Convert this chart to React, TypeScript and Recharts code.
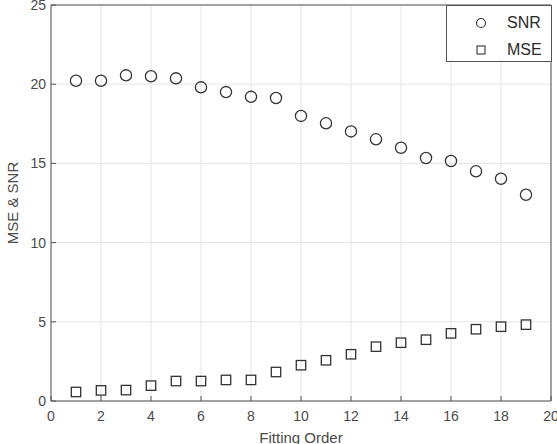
import { ScatterChart, Scatter, XAxis, YAxis, CartesianGrid, Legend } from "recharts";

const orders = [1, 2, 3, 4, 5, 6, 7, 8, 9, 10, 11, 12, 13, 14, 15, 16, 17, 18, 19];
const snrValues = [
  20.22, 20.22, 20.56, 20.5, 20.37, 19.8, 19.5, 19.2, 19.13, 18.0, 17.53, 17.02, 16.52,
  15.99, 15.34, 15.15, 14.5, 14.03, 13.02,
];
const mseValues = [
  0.57, 0.67, 0.69, 0.97, 1.26, 1.26, 1.33, 1.33, 1.83, 2.26, 2.57, 2.95, 3.43, 3.68,
  3.87, 4.27, 4.53, 4.69, 4.82,
];
const xTicks = [0, 2, 4, 6, 8, 10, 12, 14, 16, 18, 20];
const yTicks = [0, 5, 10, 15, 20, 25];

const snrData = orders.map((x, i) => ({ x, y: snrValues[i] }));
const mseData = orders.map((x, i) => ({ x, y: mseValues[i] }));

const FONT = "'Liberation Sans', Arial, Helvetica, sans-serif";
const AXIS = "#555";
const TEXT = "#4a4a4a";
const MARK = "#333";

function CircleMark(props: any) {
  const { cx, cy } = props;
  if (cx == null || cy == null) return null;
  return <circle cx={cx} cy={cy} r={5.6} fill="none" stroke={MARK} strokeWidth={1.3} />;
}

function SquareMark(props: any) {
  const { cx, cy } = props;
  if (cx == null || cy == null) return null;
  return (
    <rect x={cx - 4.7} y={cy - 4.7} width={9.4} height={9.4} fill="none" stroke={MARK} strokeWidth={1.3} />
  );
}

function YTitle() {
  return (
    <text
      x={12}
      y={203}
      transform="rotate(-90 12 203)"
      textAnchor="middle"
      dominantBaseline="central"
      fill={TEXT}
      fontSize={15}
      fontFamily={FONT}
    >
      MSE &amp; SNR
    </text>
  );
}

function LegendBox() {
  const row = { display: "flex", alignItems: "center", height: 27 } as const;
  return (
    <div
      style={{
        width: 106,
        height: 57,
        boxSizing: "border-box",
        border: `1px solid ${AXIS}`,
        background: "#fff",
        fontFamily: FONT,
        fontSize: 16,
        color: "#2a2a2a",
        paddingTop: 3,
      }}
    >
      <div style={row}>
        <svg width={60} height={14} style={{ flex: "none" }}>
          <circle cx={34} cy={7} r={4.5} fill="none" stroke={MARK} strokeWidth={1.1} />
        </svg>
        <span>SNR</span>
      </div>
      <div style={row}>
        <svg width={60} height={14} style={{ flex: "none" }}>
          <rect x={30} y={3} width={8} height={8} fill="none" stroke={MARK} strokeWidth={1.1} />
        </svg>
        <span>MSE</span>
      </div>
    </div>
  );
}

export default function App() {
  return (
    <div style={{ position: "absolute", left: 0, top: 0, width: 557, height: 444, background: "#fff" }}>
      <ScatterChart
        width={557}
        height={444}
        margin={{ top: 0, right: 0, bottom: 0, left: 0 }}
        style={{ fontFamily: FONT }}
      >
        <CartesianGrid stroke="#e4e4e4" strokeWidth={1} />
        <XAxis
          type="number"
          dataKey="x"
          domain={[0, 20]}
          ticks={xTicks}
          interval={0}
          height={43}
          stroke={AXIS}
          tickSize={-5}
          tickMargin={15}
          tick={{ fill: TEXT, fontSize: 14, fontFamily: FONT }}
          label={{ value: "Fitting Order", position: "insideBottom", offset: 1, fill: TEXT, fontSize: 15, fontFamily: FONT }}
        />
        <XAxis
          xAxisId="top"
          orientation="top"
          type="number"
          domain={[0, 20]}
          ticks={xTicks}
          interval={0}
          height={5}
          stroke={AXIS}
          tickSize={-5}
          tick={false}
        />
        <YAxis
          type="number"
          dataKey="y"
          domain={[0, 25]}
          ticks={yTicks}
          interval={0}
          width={51}
          stroke={AXIS}
          tickSize={-5}
          tickMargin={10}
          tick={{ fill: TEXT, fontSize: 14, fontFamily: FONT }}
          label={<YTitle />}
        />
        <YAxis
          yAxisId="right"
          orientation="right"
          type="number"
          domain={[0, 25]}
          ticks={yTicks}
          interval={0}
          width={6}
          stroke={AXIS}
          tickSize={-5}
          tick={false}
        />
        <Legend
          layout="vertical"
          align="center"
          verticalAlign="middle"
          wrapperStyle={{ top: 5, left: 446, width: 106, height: 57 }}
          content={() => <LegendBox />}
        />
        <Scatter name="SNR" data={snrData} shape={CircleMark} isAnimationActive={false} />
        <Scatter name="MSE" data={mseData} shape={SquareMark} isAnimationActive={false} />
      </ScatterChart>
    </div>
  );
}
